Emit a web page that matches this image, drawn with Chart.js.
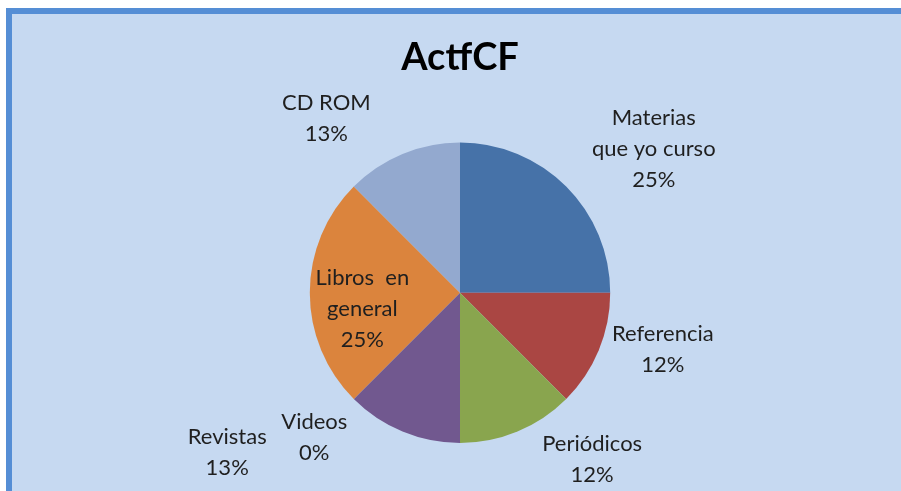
<!DOCTYPE html>
<html>
<head>
<meta charset="utf-8">
<script src="https://cdn.jsdelivr.net/npm/chart.js@4/dist/chart.umd.min.js"></script>
<style>
  html, body { margin: 0; padding: 0; background: #ffffff; }
  #frame { position: absolute; left: 6px; top: 8px; width: 895px; height: 483px;
           border-top: 6px solid #558ED5; border-left: 6px solid #558ED5;
           background: #C6D9F1; box-sizing: border-box; }
  #wrap { position: absolute; left: 0; top: 0; width: 901px; height: 491px; }
</style>
</head>
<body>
<div id="frame"></div>
<div id="wrap"><canvas id="c" width="901" height="491"></canvas></div>
<script>
const titleText = "ActfCF";
const categories = [
  ["Materias", "que yo curso"],
  ["Referencia"],
  ["Periódicos"],
  ["Videos"],
  ["Revistas"],
  ["Libros  en", "general"],
  ["CD ROM"]
];
// counts behind the shares (slice angles in the picture are 1/4, 1/8, 1/8, 0, 1/8, 1/4, 1/8)
const values = [2, 1, 1, 0, 1, 2, 1];
const percentLabels = ["25%", "12%", "12%", "0%", "13%", "25%", "13%"];
const sliceColors = ["#4672A8", "#AA4643", "#89A54E", "#4198AF", "#71588F", "#DB843D", "#93A9CF"];

// label anchor positions relative to pie centre, in units of the pie radius
const labelAnchors = [
  [1.29, -0.96], [1.35, 0.38], [0.88, 1.11], [-0.97, 0.96],
  [-1.55, 1.06], [-0.65, 0.11], [-0.89, -1.16]
];

const labelPlugin = {
  id: 'sliceLabels',
  afterDatasetsDraw(chart) {
    const ctx = chart.ctx;
    const meta = chart.getDatasetMeta(0);
    ctx.save();
    ctx.font = '22px Lato, "Open Sans", sans-serif';
    ctx.fillStyle = '#1f1f1f';
    ctx.textAlign = 'center';
    ctx.textBaseline = 'middle';
    const lineH = 31;
    meta.data.forEach((arc, i) => {
      const r = arc.outerRadius;
      const cx = arc.x + labelAnchors[i][0] * r;
      const cy = arc.y + labelAnchors[i][1] * r;
      const lines = categories[i].concat([percentLabels[i]]);
      const y0 = cy - (lines.length - 1) * lineH / 2;
      lines.forEach((t, k) => ctx.fillText(t, cx, y0 + k * lineH));
    });
    ctx.restore();
  }
};

new Chart(document.getElementById('c'), {
  type: 'pie',
  data: {
    labels: categories.map(c => c.join(' ')),
    datasets: [{
      data: values,
      backgroundColor: sliceColors,
      borderWidth: 0
    }]
  },
  options: {
    responsive: false,
    animation: false,
    layout: { padding: { top: 10, bottom: 48, left: 160, right: 141 } },
    plugins: {
      legend: { display: false },
      tooltip: { enabled: false },
      title: {
        display: true,
        text: titleText,
        color: '#000000',
        font: { family: 'Lato, "Open Sans", sans-serif', size: 38, weight: 'bold', lineHeight: 1.2 },
        padding: { top: 25, bottom: 62 }
      }
    }
  },
  plugins: [labelPlugin]
});
</script>
</body>
</html>
